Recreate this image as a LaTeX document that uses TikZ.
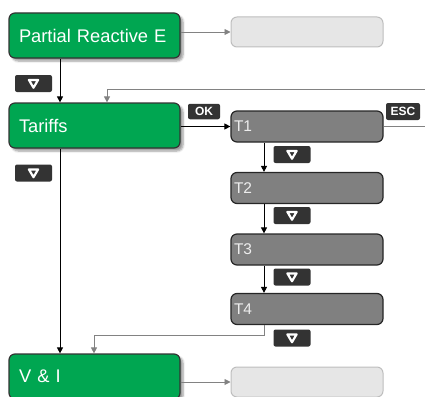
\documentclass[tikz,border=0pt]{standalone}
\usepackage{fontspec}
\setmainfont{Liberation Sans}
\usetikzlibrary{arrows.meta,shadows.blur,calc}
\definecolor{menugreen}{RGB}{0,166,81}
\definecolor{keydark}{RGB}{51,51,51}
\definecolor{stepgrey}{RGB}{128,128,128}
\definecolor{emptyfill}{RGB}{230,230,230}
\definecolor{emptyline}{RGB}{190,190,190}
\definecolor{linkgrey}{RGB}{130,130,130}
\tikzset{
  x=1pt, y=1pt,
  menubox/.style={draw=keydark, line width=1.2pt, fill=menugreen, rounded corners=6pt,
    minimum width=171pt, minimum height=45pt, text width=151pt, inner xsep=10pt,
    align=left, text=white, font=\fontsize{18.3}{20}\selectfont,
    blur shadow={shadow xshift=3pt, shadow yshift=-3pt, shadow blur steps=6, shadow opacity=40}},
  tbox/.style={draw=black!85, line width=1.2pt, fill=stepgrey, rounded corners=6pt,
    minimum width=152pt, minimum height=31pt, text width=146pt, inner xsep=3pt,
    align=left, text=white!93!black, font=\fontsize{15.5}{17}\selectfont},
  emptybox/.style={draw=emptyline, line width=1pt, fill=emptyfill, rounded corners=6pt,
    minimum width=152pt, minimum height=30pt},
  keybadge/.style={fill=keydark, rounded corners=2pt, text=white, inner sep=0pt,
    font=\fontsize{12}{12}\selectfont\bfseries},
  blackarrow/.style={draw=black, line width=0.9pt, -{Triangle[length=6pt,width=6pt]}},
  greyarrow/.style={draw=linkgrey, line width=0.9pt, -{Triangle[length=6pt,width=6pt]}},
  downkey/.pic={
    \node[keybadge, minimum width=37pt, minimum height=17pt] (-box) {};
    \draw[white, line width=2.2pt, line join=round] (-4.6,3.6) -- (4.6,3.6) -- (0,-4.2) -- cycle;
  }
}
\begin{document}
\begin{tikzpicture}
\clip (0,0) rectangle (425,-396);

% main menu entries
\node[menubox] (pre) at (94.5,-35.5) {Partial Reactive E};
\node[menubox] (tar) at (94.5,-125.5) {Tariffs};
\node[menubox] (vi)  at (94.5,-376.5) {V \& I};

% empty detail screens
\node[emptybox] (pre-detail) at (307,-32) {};
\node[emptybox] (vi-detail)  at (307,-382) {};

% tariff sub menu
\node[tbox] (t1) at (307,-126.5) {T1};
\node[tbox] (t2) at (307,-188)   {T2};
\node[tbox] (t3) at (307,-249.5) {T3};
\node[tbox] (t4) at (307,-309)   {T4};

% key badges
\pic (k1) at (33.5,-83.5) {downkey};
\pic (k2) at (33.5,-173)  {downkey};
\pic (k3) at (292,-154.5) {downkey};
\pic (k4) at (292,-215.5) {downkey};
\pic (k5) at (292,-277)   {downkey};
\pic (k6) at (292,-338)   {downkey};
\node[keybadge, minimum width=32pt, minimum height=15.5pt] (ok)  at (204,-111.5) {OK};
\node[keybadge, minimum width=34pt, minimum height=17pt]   (esc) at (403,-111.5) {ESC};

% guide coordinates for the vertical runs
\coordinate (lx)   at (60,0);
\coordinate (rx)   at (107,0);
\coordinate (tx)   at (264,0);
\coordinate (vx)   at (94,0);
\coordinate (loop) at (445,-89);
\coordinate (back) at (0,-335);

% connectors
\draw[greyarrow] (pre.east |- pre-detail.west) -- (pre-detail.west);
\draw[greyarrow] (vi.east |- vi-detail.west) -- (vi-detail.west);
\draw[blackarrow] (pre.south -| lx) -- (tar.north -| lx);
\draw[blackarrow] (tar.south -| lx) -- (vi.north -| lx);
\draw[blackarrow] (tar.east |- t1.west) -- (t1.west);
\draw[blackarrow] (t1.south -| tx) -- (t2.north -| tx);
\draw[blackarrow] (t2.south -| tx) -- (t3.north -| tx);
\draw[blackarrow] (t3.south -| tx) -- (t4.north -| tx);
\draw[greyarrow] (t4.south -| tx) -- (back -| tx) -- (back -| vx) -- (vi.north -| vx);
\draw[greyarrow] (t1.east) -- (t1.east -| loop) -- (loop) -- (loop -| rx) -- (tar.north -| rx);
\end{tikzpicture}
\end{document}
